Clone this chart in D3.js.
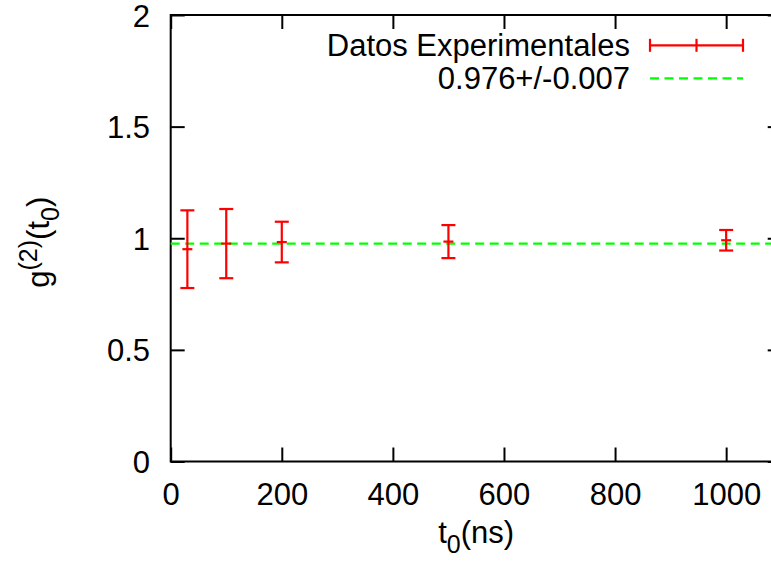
<!DOCTYPE html>
<meta charset="utf-8">
<head>
    <script src="https://d3js.org/d3.v7.min.js"></script>
    <style>
        body { margin: 0; background: #fff; }
        svg { display: block; font-family: "Liberation Sans", Arial, sans-serif; }
        .axis path.domain { display: none; }
        .axis line { stroke: #000; stroke-width: 2; }
        .axis text { font-size: 31px; fill: #000; font-family: "Liberation Sans", Arial, sans-serif; }
    </style>
</head>
<body>
<div id="chart"></div>
<script>
    // data
    let times = [30, 100, 200, 500, 1000]
    let g2 = [0.951, 0.976, 0.983, 0.985, 0.991]
    let g2err = [0.174, 0.155, 0.091, 0.074, 0.046]
    let fitValue = 0.976
    let legendLabels = ["Datos Experimentales", "0.976+/-0.007"]
    let xTicks = [0, 200, 400, 600, 800, 1000]
    let yTicks = [0, 0.5, 1, 1.5, 2]

    let svg_width = 771, svg_height = 565
    let plot = { left: 170.7, right: 781.7, top: 15, bottom: 461.5 }
    let tickLen = 14

    let svg = d3.select("#chart").append("svg")
        .attr("width", svg_width)
        .attr("height", svg_height)

    let x = d3.scaleLinear().domain([0, 1100]).range([plot.left, plot.right])
    let y = d3.scaleLinear().domain([0, 2]).range([plot.bottom, plot.top])

    // bottom axis, ticks pointing inward
    svg.append("g").attr("class", "axis")
        .attr("transform", "translate(0," + plot.bottom + ")")
        .call(d3.axisBottom(x).tickValues(xTicks).tickSize(-tickLen).tickPadding(0).tickFormat(d3.format("d")))
        .selectAll("text").attr("y", 43.5).attr("dy", null)

    // top mirror ticks
    svg.append("g").attr("class", "axis")
        .attr("transform", "translate(0," + plot.top + ")")
        .call(d3.axisTop(x).tickValues(xTicks).tickSize(-tickLen).tickFormat(""))

    // left axis
    svg.append("g").attr("class", "axis")
        .attr("transform", "translate(" + plot.left + ",0)")
        .call(d3.axisLeft(y).tickValues(yTicks).tickSize(-tickLen).tickPadding(0).tickFormat(d => String(d)))
        .selectAll("text").attr("x", -20.7).attr("dy", 11)

    // right mirror ticks
    svg.append("g").attr("class", "axis")
        .attr("transform", "translate(" + plot.right + ",0)")
        .call(d3.axisRight(y).tickValues(yTicks).tickSize(-tickLen).tickFormat(""))

    // frame
    svg.append("rect")
        .attr("x", plot.left).attr("y", plot.top)
        .attr("width", plot.right - plot.left).attr("height", plot.bottom - plot.top)
        .attr("fill", "none").attr("stroke", "#000").attr("stroke-width", 2)

    // fitted constant
    svg.append("line")
        .attr("x1", plot.left).attr("x2", plot.right)
        .attr("y1", y(fitValue)).attr("y2", y(fitValue))
        .attr("stroke", "#00ff00").attr("stroke-width", 2.2)
        .attr("stroke-dasharray", "9,5.5")

    // error bars
    let cap = 7
    let bars = svg.append("g").attr("stroke", "#ff0000").attr("stroke-width", 2.2)
    times.forEach(function (t, i) {
        let cx = x(t)
        let lo = y(g2[i] - g2err[i]), hi = y(g2[i] + g2err[i])
        bars.append("line").attr("x1", cx).attr("x2", cx).attr("y1", lo).attr("y2", hi)
        bars.append("line").attr("x1", cx - cap).attr("x2", cx + cap).attr("y1", lo).attr("y2", lo)
        bars.append("line").attr("x1", cx - cap).attr("x2", cx + cap).attr("y1", hi).attr("y2", hi)
        bars.append("line").attr("x1", cx - 5).attr("x2", cx + 5).attr("y1", y(g2[i])).attr("y2", y(g2[i]))
    })

    // legend
    let keyText = 630, keyX1 = 650, keyX2 = 743
    let rowY = [45.3, 78.3]
    legendLabels.forEach(function (lab, i) {
        svg.append("text")
            .attr("x", keyText).attr("y", rowY[i] + 11)
            .attr("text-anchor", "end")
            .attr("font-size", 31)
            .text(lab)
    })
    let k = svg.append("g").attr("stroke", "#ff0000").attr("stroke-width", 2.2)
    k.append("line").attr("x1", keyX1).attr("x2", keyX2).attr("y1", rowY[0]).attr("y2", rowY[0])
    k.append("line").attr("x1", keyX1).attr("x2", keyX1).attr("y1", rowY[0] - 6.5).attr("y2", rowY[0] + 6.5)
    k.append("line").attr("x1", keyX2).attr("x2", keyX2).attr("y1", rowY[0] - 6.5).attr("y2", rowY[0] + 6.5)
    k.append("line").attr("x1", (keyX1 + keyX2) / 2).attr("x2", (keyX1 + keyX2) / 2).attr("y1", rowY[0] - 6.5).attr("y2", rowY[0] + 6.5)
    svg.append("line")
        .attr("x1", keyX1).attr("x2", keyX2).attr("y1", rowY[1]).attr("y2", rowY[1])
        .attr("stroke", "#00ff00").attr("stroke-width", 2.2).attr("stroke-dasharray", "9,5.5")

    // x axis title: t0(ns)
    let xt = svg.append("text")
        .attr("x", (plot.left + plot.right) / 2).attr("y", 543)
        .attr("text-anchor", "middle").attr("font-size", 31)
    xt.append("tspan").text("t")
    xt.append("tspan").attr("font-size", 25).attr("dy", 10).text("0")
    xt.append("tspan").attr("dy", -10).text("(ns)")

    // y axis title: g(2)(t0)
    let yt = svg.append("text")
        .attr("transform", "translate(49," + ((plot.top + plot.bottom) / 2 + 4) + ") rotate(-90)")
        .attr("text-anchor", "middle").attr("font-size", 31)
    yt.append("tspan").text("g")
    yt.append("tspan").attr("font-size", 25).attr("dy", -12).text("(2)")
    yt.append("tspan").attr("dy", 12).text("(t")
    yt.append("tspan").attr("font-size", 25).attr("dy", 10).text("0")
    yt.append("tspan").attr("dy", -10).text(")")
</script>
</body>
</html>
